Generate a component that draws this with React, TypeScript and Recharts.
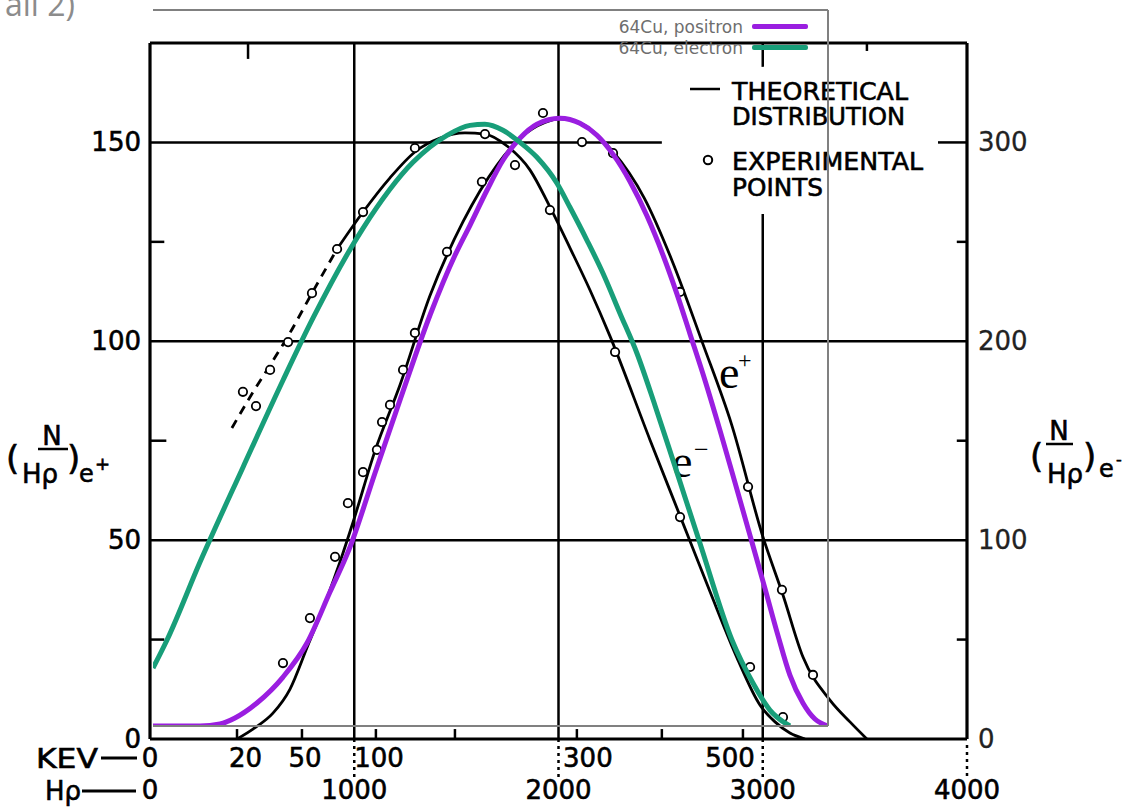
//
// 64Cu beta spectra: scanned reference figure with fitted positron / electron curves on top
//
import React from 'react';
import {
  ComposedChart,
  Legend,
  Line,
  ReferenceLine,
  Scatter,
  XAxis,
  YAxis,
} from 'recharts';

// ---------- scanned figure data (x = Hρ, y = N/Hρ) ----------
const ePlusTheory = [
  [426, 0], [504, 2.5], [602, 6.5], [685, 12.5], [769, 23], [867, 35.5], [930, 44.5],
  [994, 54.5], [1102, 72.5], [1224, 89], [1371, 111.5], [1532, 130], [1699, 144.3],
  [1811, 151], [1934, 155], [2007, 155.9], [2105, 154.9], [2262, 148], [2420, 136],
  [2555, 120.4], [2705, 99.6], [2848, 79], [3001, 50.8], [3099, 36.2], [3197, 20.6],
  [3329, 9.8], [3427, 4.3], [3510, 0],
].map(([h, n]) => ({ h, n }));

const eMinusExtrapolated = [
  [401, 78.2], [490, 86], [588, 94], [685, 102.1], [793, 112.1], [916, 123.2],
].map(([h, n]) => ({ h, n }));

const eMinusTheory = [
  [916, 123.2], [1043, 132.5], [1175, 141.1], [1297, 147.6], [1420, 151.1], [1542, 152.4],
  [1640, 152.1], [1748, 149.1], [1860, 143.1], [1958, 133.8], [2056, 123.5], [2154, 112.9],
  [2252, 101.3], [2448, 75.2], [2595, 56.1], [2742, 37], [2874, 20.4], [2987, 8.5],
  [3060, 4.3], [3133, 1.5], [3207, 0],
].map(([h, n]) => ({ h, n }));

const ePlusPoints = [
  [651, 19.1], [783, 30.4], [906, 45.8], [969, 59.3], [1043, 67.1], [1111, 72.7],
  [1136, 79.7], [1175, 84], [1239, 92.8], [1297, 102.1], [1454, 122.5], [1625, 140.1],
  [1924, 157.4], [2115, 150.1], [2267, 147.3], [2595, 112.4], [2928, 63.4], [3094, 37.5],
  [3246, 16.1],
].map(([h, n]) => ({ h, n }));

const eMinusPoints = [
  [455, 87.3], [519, 83.7], [588, 92.8], [676, 99.8], [793, 112.1], [916, 123.2],
  [1043, 132.5], [1297, 148.6], [1640, 152.1], [1787, 144.3], [1958, 133],
  [2277, 97.3], [2595, 55.8], [2938, 18.1], [3099, 5.5],
].map(([h, n]) => ({ h, n }));

// tick labels of the scan
const leftTicks = [0, 50, 100, 150];
const rightTicks = [0, 100, 200, 300];
const kevTickPos = [0, 468, 759, 1121, 2144, 2840];
const kevTickText = ['0', '20', '50', '100', '300', '500'];
const hrTickPos = [0, 1000, 2000, 3000, 4000];
const hrTickText = ['0', '1000', '2000', '3000', '4000'];

// frame, grid and small tick marks of the scan, [x1, y1, x2, y2]
const frameSegs = [[0, 0, 4000, 0], [0, 175, 4000, 175], [0, 0, 0, 175], [4000, 0, 4000, 175]];
const gridSegs = [
  [0, 50, 4000, 50], [0, 100, 4000, 100], [0, 150, 2506, 150], [3858, 150, 4000, 150],
  [1000, 0, 1000, 175], [2000, 0, 2000, 175], [3000, 0, 3000, 132], [3000, 169, 3000, 175],
];
const markSegs = [
  [0, 25, 70, 25], [0, 75, 80, 75], [0, 125, 70, 125],
  [3950, 25, 4000, 25], [3950, 75, 4000, 75], [3950, 125, 4000, 125],
  [426, 0, 426, 2.5], [744, 0, 744, 2.5], [1106, 0, 1106, 2.5], [1493, 0, 1493, 2.5],
  [2090, 0, 2090, 2.5], [2506, 0, 2506, 2.5], [2903, 0, 2903, 2.5],
  [480, 171, 480, 175], [3510, 173, 3510, 175],
];
const dottedSegs = [[1000, 0, 1000, -10], [2000, 0, 2000, -10], [3000, 0, 3000, -10], [4000, -1.5, 4000, -10]];

// ---------- overlay data (fitted curves) ----------
const positron = [
  [-0.7, 0], [-0.153, 0], [0.079, 0.017], [0.253, 0.067], [0.509, 0.192], [0.812, 0.408],
  [1.091, 0.692], [1.358, 1.117], [1.591, 1.492], [1.881, 2.108], [2.172, 2.717],
  [2.521, 3.425], [2.812, 3.925], [2.986, 4.175], [3.184, 4.467], [3.37, 4.717],
  [3.567, 4.9], [3.765, 5.017], [4.033, 5.067], [4.265, 5.025], [4.463, 4.926],
  [4.649, 4.768], [4.847, 4.54], [5.044, 4.254], [5.23, 3.929], [5.393, 3.603],
  [5.544, 3.271], [5.719, 2.883], [5.893, 2.467], [6.067, 2.033], [6.242, 1.592],
  [6.416, 1.15], [6.567, 0.758], [6.707, 0.425], [6.858, 0.192], [6.998, 0.058], [7.149, 0],
].map(([u, v]) => ({ u, v }));

const electron = [
  [-0.7, 0.483], [-0.537, 0.717], [-0.153, 1.367], [0.347, 2.158], [0.812, 2.883],
  [1.16, 3.4], [1.742, 4.15], [2.323, 4.7], [2.719, 4.925], [2.986, 5.008], [3.16, 5.017],
  [3.37, 4.967], [3.567, 4.867], [3.765, 4.742], [3.998, 4.525], [4.149, 4.325],
  [4.347, 4.05], [4.533, 3.775], [4.73, 3.442], [4.928, 3.108], [5.137, 2.675],
  [5.347, 2.217], [5.66, 1.525], [6.033, 0.717], [6.277, 0.358], [6.474, 0.133], [6.707, 0],
].map(([u, v]) => ({ u, v }));

const overlayXTicks = [0, 1, 2, 3, 4, 5, 6, 7];
const overlayYTicks = [1, 2, 3, 4, 5];
const legendOrder = ['64Cu, positron', '64Cu, electron'];

const FONT = "'DejaVu Sans', sans-serif";
const PURPLE = '#9a1ee0';
const GREEN = '#189e79';
const GREY = '#808080';

const Ring = (p: any) => (
  <circle cx={p.cx} cy={p.cy} r={4.2} fill="#fff" stroke="#000" strokeWidth={1.8} />
);

const scanText = { fontFamily: FONT, fill: '#000', stroke: '#000', strokeWidth: 0.6 };

const LeftTick = ({ x, y, payload }: any) => (
  <text x={x} y={y} dy={9} textAnchor="end" fontSize={26} {...scanText}>
    {payload.value}
  </text>
);

const RightTick = ({ x, y, payload }: any) => (
  <text x={x} y={y} dy={9} textAnchor="start" fontSize={26} {...scanText} fill="#222" stroke="#222" strokeWidth={0.3}>
    {payload.value}
  </text>
);

const BottomTick = ({ x, y, payload }: any) => {
  const ki = kevTickPos.indexOf(payload.value);
  const hi = hrTickPos.indexOf(payload.value);
  return (
    <g>
      {ki >= 0 && (
        <text x={x} y={y + 20} textAnchor="middle" fontSize={26} {...scanText}>
          {kevTickText[ki]}
        </text>
      )}
      {hi >= 0 && (
        <text x={x} y={y + 52} textAnchor="middle" fontSize={26} {...scanText}>
          {hrTickText[hi]}
        </text>
      )}
    </g>
  );
};

const OverlayLegend = ({ payload }: any) => {
  const items = [...(payload || [])].sort(
    (a: any, b: any) => legendOrder.indexOf(a.value) - legendOrder.indexOf(b.value),
  );
  return (
    <div style={{ display: 'flex', flexDirection: 'column', alignItems: 'flex-end' }}>
      {items.map((e: any) => (
        <div key={e.value} style={{ display: 'flex', alignItems: 'center', height: 21 }}>
          <span style={{ fontFamily: FONT, fontSize: 17, color: '#6e6e6e', marginRight: 9 }}>{e.value}</span>
          <span style={{ display: 'inline-block', width: 56, height: 5, background: e.color, borderRadius: 2 }} />
        </div>
      ))}
    </div>
  );
};

function seg(list: number[][], key: string, props: any) {
  return list.map(([x1, y1, x2, y2], i) => (
    <ReferenceLine
      key={key + i}
      xAxisId="h"
      yAxisId="n"
      segment={[{ x: x1, y: y1 }, { x: x2, y: y2 }]}
      ifOverflow="visible"
      {...props}
    />
  ));
}

// texts of the scanned figure that are not axis ticks
function Annotations() {
  const t = scanText;
  const serif = { fontFamily: "'Liberation Serif', serif", fill: '#000' };
  return (
    <svg width={1140} height={811} style={{ position: 'absolute', left: 0, top: 0 }}>
      <text x={5} y={16} fontFamily="'Open Sans', sans-serif" fontSize={32} fill="#8c8c8c">all 2)</text>

      <line x1={690} y1={89} x2={720} y2={89} stroke="#000" strokeWidth={2.5} />
      <text x={732} y={100} {...t} fontSize={25} textLength={176} lengthAdjust="spacingAndGlyphs">THEORETICAL</text>
      <text x={732} y={125} {...t} fontSize={25} textLength={173} lengthAdjust="spacingAndGlyphs">DISTRIBUTION</text>
      <circle cx={708} cy={160} r={4.2} fill="#fff" stroke="#000" strokeWidth={2} />
      <text x={732} y={170} {...t} fontSize={25} textLength={191} lengthAdjust="spacingAndGlyphs">EXPERIMENTAL</text>
      <text x={732} y={196} {...t} fontSize={25} textLength={91} lengthAdjust="spacingAndGlyphs">POINTS</text>

      <text x={36} y={768} {...t} fontSize={26} textLength={62} lengthAdjust="spacingAndGlyphs">KEV</text>
      <line x1={101} y1={758} x2={137} y2={758} stroke="#000" strokeWidth={3} />
      <text x={45} y={800} {...t} fontSize={26}>Hρ</text>
      <line x1={82} y1={791} x2={136} y2={791} stroke="#000" strokeWidth={3} />

      <text x={6} y={470} {...t} fontSize={34}>(</text>
      <text x={52} y={445} {...t} fontSize={26} textAnchor="middle">N</text>
      <line x1={38} y1={449} x2={68} y2={449} stroke="#000" strokeWidth={2.5} />
      <text x={22} y={483} {...t} fontSize={26}>Hρ</text>
      <text x={67} y={470} {...t} fontSize={34}>)</text>
      <text x={79} y={482} {...t} fontSize={24}>e</text>
      <text x={95} y={470} {...t} fontSize={18}>+</text>

      <text x={1030} y={468} {...t} fontSize={34}>(</text>
      <text x={1059} y={440} {...t} fontSize={26} textAnchor="middle">N</text>
      <line x1={1046} y1={444} x2={1073} y2={444} stroke="#000" strokeWidth={2.5} />
      <text x={1047} y={483} {...t} fontSize={26}>Hρ</text>
      <text x={1083} y={468} {...t} fontSize={34}>)</text>
      <text x={1099} y={477} {...t} fontSize={24}>e</text>
      <text x={1116} y={465} {...t} fontSize={16}>-</text>

      <text x={719} y={388} {...serif} fontSize={46}>e</text>
      <text x={738} y={368} {...serif} fontSize={24}>+</text>
      <text x={672} y={477} {...serif} fontSize={46}>e</text>
      <text x={694} y={458} {...serif} fontSize={26}>−</text>
    </svg>
  );
}

export default function App() {
  return (
    <div style={{ position: 'absolute', left: 0, top: 0, width: 1140, height: 811, background: '#fff' }}>
      {/* scanned figure */}
      <div style={{ position: 'absolute', left: 0, top: 0 }}>
        <ComposedChart width={1140} height={811} margin={{ top: 43, right: 0, bottom: 0, left: 0 }}>
          <XAxis
            xAxisId="h"
            type="number"
            dataKey="h"
            domain={[0, 4000]}
            allowDataOverflow
            ticks={[...new Set([...kevTickPos, ...hrTickPos])].sort((a, b) => a - b)}
            interval={0}
            height={72}
            axisLine={false}
            tickLine={false}
            tick={<BottomTick />}
          />
          <YAxis
            yAxisId="n"
            type="number"
            dataKey="n"
            domain={[0, 175]}
            allowDataOverflow
            ticks={leftTicks}
            interval={0}
            width={150}
            axisLine={false}
            tickLine={false}
            tickMargin={3}
            tick={<LeftTick />}
          />
          <YAxis
            yAxisId="r"
            orientation="right"
            type="number"
            domain={[0, 350]}
            allowDataOverflow
            ticks={rightTicks}
            interval={0}
            width={173}
            axisLine={false}
            tickLine={false}
            tickMargin={5}
            tick={<RightTick />}
          />
          {seg(gridSegs, 'g', { stroke: '#000', strokeWidth: 2.5 })}
          {seg(frameSegs, 'f', { stroke: '#000', strokeWidth: 3.2 })}
          {seg(markSegs, 'm', { stroke: '#000', strokeWidth: 2.5 })}
          {seg(dottedSegs, 'd', { stroke: '#000', strokeWidth: 2.5, strokeDasharray: '3 4' })}
          <Line xAxisId="h" yAxisId="n" data={ePlusTheory} dataKey="n" type="monotone" stroke="#000"
            strokeWidth={2.8} dot={false} isAnimationActive={false} />
          <Line xAxisId="h" yAxisId="n" data={eMinusTheory} dataKey="n" type="monotone" stroke="#000"
            strokeWidth={2.8} dot={false} isAnimationActive={false} />
          <Line xAxisId="h" yAxisId="n" data={eMinusExtrapolated} dataKey="n" type="monotone" stroke="#000"
            strokeWidth={2.8} strokeDasharray="9 7" dot={false} isAnimationActive={false} />
          <Scatter xAxisId="h" yAxisId="n" data={ePlusPoints} shape={Ring} isAnimationActive={false} />
          <Scatter xAxisId="h" yAxisId="n" data={eMinusPoints} shape={Ring} isAnimationActive={false} />
        </ComposedChart>
      </div>

      <Annotations />

      {/* fitted curves on top */}
      <div style={{ position: 'absolute', left: 0, top: 0 }}>
        <ComposedChart width={1140} height={811} margin={{ top: 10, right: 312, bottom: 85, left: 153 }}>
          <XAxis
            xAxisId="b"
            type="number"
            dataKey="u"
            domain={[-0.7, 7.15]}
            allowDataOverflow
            ticks={overlayXTicks}
            interval={0}
            mirror
            tick={false}
            axisLine={{ stroke: GREY, strokeWidth: 2 }}
            tickLine={{ stroke: GREY, strokeWidth: 1.5 }}
          />
          <XAxis
            xAxisId="t"
            orientation="top"
            type="number"
            dataKey="u"
            domain={[-0.7, 7.15]}
            allowDataOverflow
            ticks={overlayXTicks}
            interval={0}
            mirror
            tick={false}
            axisLine={{ stroke: GREY, strokeWidth: 2 }}
            tickLine={{ stroke: GREY, strokeWidth: 1.5 }}
          />
          <YAxis yAxisId="l" type="number" domain={[0, 5.97]} allowDataOverflow hide />
          <YAxis
            yAxisId="r"
            orientation="right"
            type="number"
            domain={[0, 5.97]}
            allowDataOverflow
            ticks={overlayYTicks}
            interval={0}
            mirror
            tick={false}
            axisLine={{ stroke: GREY, strokeWidth: 2 }}
            tickLine={{ stroke: GREY, strokeWidth: 1.5 }}
          />
          <Line xAxisId="b" yAxisId="l" data={positron} dataKey="v" name="64Cu, positron" type="monotone"
            stroke={PURPLE} strokeWidth={5} dot={false} isAnimationActive={false} />
          <Line xAxisId="b" yAxisId="l" data={electron} dataKey="v" name="64Cu, electron" type="monotone"
            stroke={GREEN} strokeWidth={5} dot={false} isAnimationActive={false} />
          <Legend
            layout="vertical"
            align="center"
            verticalAlign="middle"
            content={<OverlayLegend />}
            wrapperStyle={{ position: 'absolute', left: 548, top: 16, width: 260 }}
          />
        </ComposedChart>
      </div>
    </div>
  );
}
